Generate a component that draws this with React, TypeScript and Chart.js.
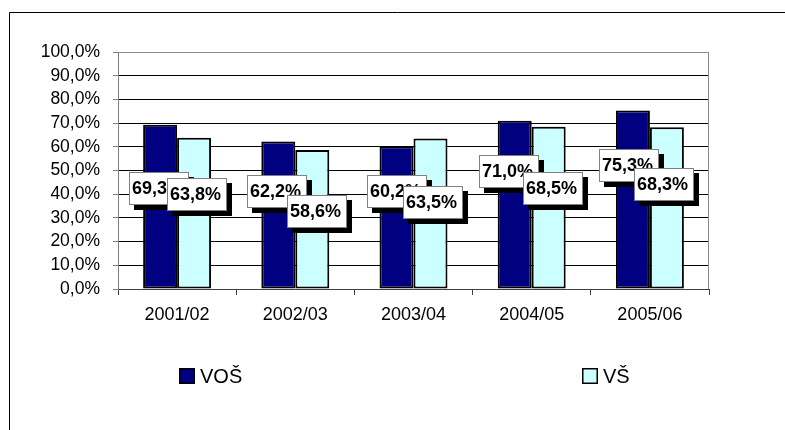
import React, { useEffect, useRef } from 'react';
import { Chart, registerables } from 'chart.js';

Chart.register(...registerables);

const categories = ['2001/02', '2002/03', '2003/04', '2004/05', '2005/06'];
const seriesNames = ['VOŠ', 'VŠ'];
const vosValues = [69.3, 62.2, 60.2, 71.0, 75.3];
const vsValues = [63.8, 58.6, 63.5, 68.5, 68.3];
const yTickValues = [0, 10, 20, 30, 40, 50, 60, 70, 80, 90, 100];
// level (in % on the value axis) at which each data-label box is centred
const vosLabelLevels = [42.4, 41.1, 41.1, 49.6, 52.1];
const vsLabelLevels = [39.9, 32.9, 36.5, 42.4, 44.1];
// small horizontal nudges of the label boxes (px)
const vosLabelNudge = [-1, -1, 0, -6, -4];
const vsLabelNudge = [3, 5, 3, 4, -3];

const FONT = "'Liberation Sans', Arial, sans-serif";
const fmt = (v: number) => v.toFixed(1).replace('.', ',') + '%';

export default function App() {
  const ref = useRef<HTMLCanvasElement>(null);

  useEffect(() => {
    if (!ref.current) return;

    const framePlugin = {
      id: 'frame',
      beforeDraw(chart: any) {
        const c = chart.ctx;
        c.save();
        c.fillStyle = '#fff';
        c.fillRect(0, 0, chart.width, chart.height);
        c.strokeStyle = '#000';
        c.lineWidth = 1;
        c.beginPath();
        c.moveTo(9.5, chart.height);
        c.lineTo(9.5, 12.5);
        c.lineTo(chart.width, 12.5);
        c.stroke();
        c.restore();
      },
    };

    const plotBorderPlugin = {
      id: 'plotBorder',
      afterDatasetsDraw(chart: any) {
        const { left, top, right, bottom } = chart.chartArea;
        const c = chart.ctx;
        c.save();
        c.strokeStyle = '#8c8c8c';
        c.lineWidth = 1;
        c.beginPath();
        c.moveTo(left, top + 0.5);
        c.lineTo(right - 0.5, top + 0.5);
        c.lineTo(right - 0.5, bottom);
        c.stroke();
        c.restore();
      },
    };

    const labelsPlugin = {
      id: 'boxLabels',
      afterDatasetsDraw(chart: any) {
        const c = chart.ctx;
        const yScale = chart.scales.y;
        const levels = [vosLabelLevels, vsLabelLevels];
        const nudges = [vosLabelNudge, vsLabelNudge];
        c.save();
        c.font = `bold 18px ${FONT}`;
        chart.data.datasets.forEach((ds: any, di: number) => {
          const meta = chart.getDatasetMeta(di);
          meta.data.forEach((bar: any, i: number) => {
            const text = fmt(ds.data[i]);
            const tw = c.measureText(text).width;
            const w = Math.round(tw + 9);
            const h = 33;
            const cx = bar.x + nudges[di][i];
            const cy = yScale.getPixelForValue(levels[di][i]);
            const l = Math.round(cx - w / 2);
            const t = Math.round(cy - h / 2);
            c.fillStyle = '#000';
            c.fillRect(l + 5, t + 5, w, h);
            c.fillStyle = '#fff';
            c.fillRect(l, t, w, h);
            c.strokeStyle = '#808080';
            c.lineWidth = 1;
            c.strokeRect(l + 0.5, t + 0.5, w - 1, h - 1);
            c.fillStyle = '#000';
            c.textAlign = 'left';
            c.textBaseline = 'middle';
            c.fillText(text, l + 3, t + h / 2 + 1);
          });
        });
        c.restore();
      },
    };

    const legendPlugin = {
      id: 'customLegend',
      afterDraw(chart: any) {
        const c = chart.ctx;
        const xs = [179, 582];
        const y = chart.chartArea.bottom + 79;
        c.save();
        c.font = `20px ${FONT}`;
        c.textBaseline = 'middle';
        c.textAlign = 'left';
        chart.data.datasets.forEach((ds: any, di: number) => {
          const x = xs[di];
          c.fillStyle = ds.backgroundColor;
          c.fillRect(x, y, 16, 16);
          c.strokeStyle = '#000';
          c.lineWidth = 1.5;
          c.strokeRect(x + 0.75, y + 0.75, 14.5, 14.5);
          c.fillStyle = '#000';
          c.fillText(ds.label, x + 21, y + 9);
        });
        c.restore();
      },
    };

    const chart = new Chart(ref.current, {
      type: 'bar',
      data: {
        labels: categories,
        datasets: [
          {
            label: seriesNames[0],
            data: vosValues,
            backgroundColor: '#000080',
            borderColor: '#000',
            borderWidth: 2,
            borderSkipped: false,
            barPercentage: 1,
            categoryPercentage: 0.575,
          },
          {
            label: seriesNames[1],
            data: vsValues,
            backgroundColor: '#CCFFFF',
            borderColor: '#000',
            borderWidth: 2,
            borderSkipped: false,
            barPercentage: 1,
            categoryPercentage: 0.575,
          },
        ],
      },
      options: {
        animation: false,
        responsive: false,
        devicePixelRatio: 1,
        layout: { padding: { left: 0, top: 52, right: 76, bottom: 81 } },
        plugins: {
          legend: { display: false },
          tooltip: { enabled: false },
        },
        scales: {
          x: {
            offset: true,
            grid: {
              offset: true,
              drawOnChartArea: false,
              drawTicks: true,
              tickLength: 6,
              tickColor: '#404040',
              lineWidth: 1,
            },
            border: { display: true, color: '#404040', width: 1 },
            ticks: {
              color: '#000',
              font: { family: FONT, size: 18 },
              padding: 9,
              maxRotation: 0,
              autoSkip: false,
            },
            afterFit: (s: any) => {
              s.height = 60;
            },
          },
          y: {
            min: 0,
            max: 100,
            afterBuildTicks: (s: any) => {
              s.ticks = yTickValues.map((v) => ({ value: v }));
            },
            grid: {
              color: (ctx: any) => (ctx.tick && ctx.tick.value === 100 ? '#8c8c8c' : '#000'),
              lineWidth: 1,
              drawTicks: true,
              tickLength: 5,
              tickColor: '#808080',
            },
            border: { display: true, color: '#808080', width: 1 },
            ticks: {
              color: '#000',
              font: { family: FONT, size: 17.5 },
              padding: 13,
              autoSkip: false,
              callback: (v: any) => fmt(Number(v)),
            },
            afterFit: (s: any) => {
              s.width = 118;
            },
          },
        },
      },
      plugins: [framePlugin, plotBorderPlugin, labelsPlugin, legendPlugin],
    });

    return () => chart.destroy();
  }, []);

  return (
    <div style={{ position: 'fixed', left: 0, top: 0, width: 785, height: 430 }}>
      <canvas ref={ref} width={785} height={430} />
    </div>
  );
}
